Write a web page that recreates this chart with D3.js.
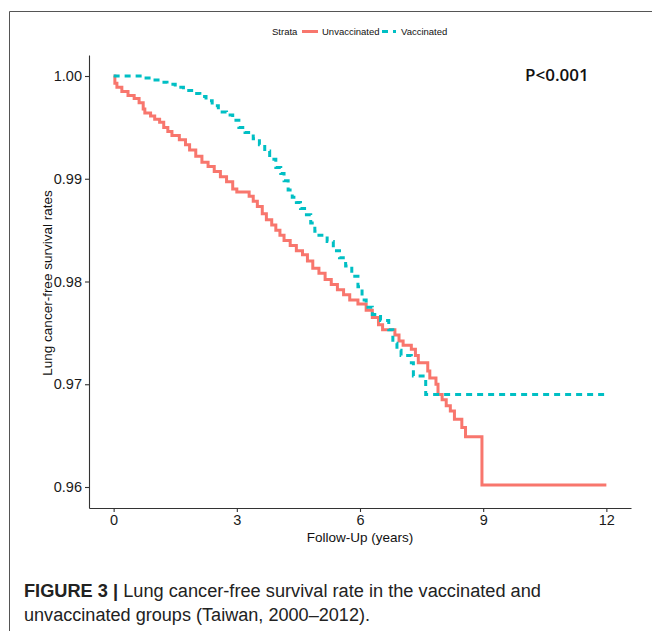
<!DOCTYPE html>
<html>
<head>
<meta charset="utf-8">
<script src="https://cdn.jsdelivr.net/npm/d3@7"></script>
<style>
  body { margin: 0; background: #fff; }
  svg { display: block; }
</style>
</head>
<body>
<div id="chart"></div>
<script>
// Kaplan-Meier style step data
var unvaxTime = [0, 0.03, 0.08, 0.2, 0.35, 0.5, 0.62, 0.72, 0.76, 0.9, 1.0, 1.12, 1.22, 1.32, 1.42, 1.6, 1.75, 1.85, 2.0, 2.15, 2.3, 2.45, 2.6, 2.75, 2.9, 3.0, 3.3, 3.4, 3.5, 3.62, 3.72, 3.85, 3.95, 4.05, 4.15, 4.3, 4.45, 4.6, 4.72, 4.85, 5.0, 5.15, 5.3, 5.45, 5.6, 5.75, 5.95, 6.15, 6.3, 6.45, 6.55, 6.85, 6.95, 7.05, 7.25, 7.35, 7.42, 7.65, 7.7, 7.85, 7.9, 8.0, 8.1, 8.2, 8.3, 8.48, 8.57, 8.97, 12.0];
var unvaxSurv = [1.0, 0.9993, 0.9989, 0.9985, 0.9981, 0.9978, 0.9974, 0.9968, 0.9964, 0.9961, 0.9958, 0.9955, 0.9950, 0.9946, 0.9942, 0.9938, 0.9933, 0.9928, 0.9922, 0.9916, 0.9912, 0.9907, 0.9902, 0.9897, 0.9890, 0.9887, 0.9883, 0.9878, 0.9873, 0.9866, 0.9860, 0.9855, 0.9850, 0.9845, 0.9840, 0.9835, 0.9830, 0.9826, 0.9820, 0.9813, 0.9808, 0.9802, 0.9797, 0.9792, 0.9787, 0.9782, 0.9778, 0.9772, 0.9765, 0.9758, 0.9753, 0.9748, 0.9742, 0.9738, 0.9734, 0.9728, 0.9721, 0.9713, 0.9706, 0.9700, 0.9690, 0.9685, 0.9679, 0.9674, 0.9666, 0.9658, 0.9649, 0.9602, 0.9602];

var vaxTime = [0, 0.7, 0.95, 1.15, 1.3, 1.5, 1.7, 1.9, 2.1, 2.25, 2.4, 2.55, 2.75, 2.9, 3.05, 3.2, 3.4, 3.55, 3.68, 3.8, 3.95, 4.07, 4.15, 4.25, 4.35, 4.45, 4.55, 4.65, 4.8, 4.9, 5.0, 5.2, 5.35, 5.5, 5.65, 5.8, 5.95, 6.05, 6.15, 6.3, 6.5, 6.7, 6.8, 6.9, 7.0, 7.25, 7.3, 7.6, 12.0];
var vaxSurv = [1.0, 0.9998, 0.9996, 0.9994, 0.9992, 0.9989, 0.9986, 0.9983, 0.9980, 0.9976, 0.9971, 0.9965, 0.9962, 0.9957, 0.9950, 0.9945, 0.9939, 0.9933, 0.9927, 0.9919, 0.9911, 0.9905, 0.9898, 0.9889, 0.9882, 0.9877, 0.9871, 0.9865, 0.9857, 0.9849, 0.9845, 0.9839, 0.9830, 0.9823, 0.9815, 0.9805, 0.9795, 0.9782, 0.9775, 0.9768, 0.9762, 0.9753, 0.9740, 0.9733, 0.9728, 0.9721, 0.9708, 0.9690, 0.9690];

var xTicks = [0, 3, 6, 9, 12];
var yTicks = [0.96, 0.97, 0.98, 0.99, 1.00];

var strata = ["Unvaccinated", "Vaccinated"];
var colors = ["#F8766D", "#00BFC4"];

var svgWidth = 652;
var svgHeight = 631;

var svg = d3.select("#chart")
  .append("svg")
  .attr("width", svgWidth)
  .attr("height", svgHeight)
  .style("font-family", "'Liberation Sans', Arial, sans-serif");

// figure frame (top and left edges only visible)
svg.append("path")
  .attr("d", "M9.5,631 L9.5,11.5 L652,11.5")
  .attr("fill", "none")
  .attr("stroke", "#555")
  .attr("stroke-width", 1);

// scales, ggplot style 5% expansion
var x = d3.scaleLinear().domain([-0.6, 12.6]).range([89, 631]);
var y = d3.scaleLinear().domain([0.957956, 1.002044]).range([508, 55]);

// axes
var bottomAxis = d3.axisBottom(x).tickValues(xTicks).tickSize(4).tickSizeOuter(0).tickPadding(3);
var leftAxis = d3.axisLeft(y).tickValues(yTicks).tickSize(4).tickSizeOuter(0).tickPadding(3).tickFormat(d3.format(".2f"));

var gx = svg.append("g")
  .attr("transform", "translate(0,508)")
  .call(bottomAxis);
var gy = svg.append("g")
  .attr("transform", "translate(89,0)")
  .call(leftAxis);

[gx, gy].forEach(function(g) {
  g.select(".domain").attr("stroke", "#333").attr("stroke-width", 1.1);
  g.selectAll(".tick line").attr("stroke", "#333").attr("stroke-width", 1.1);
  g.selectAll(".tick text")
    .attr("fill", "#1a1a1a")
    .style("font-size", "14.5px")
    .style("font-family", "'Liberation Sans', Arial, sans-serif");
});

// survival curves
var line = d3.line()
  .x(function(d) { return x(d[0]); })
  .y(function(d) { return y(d[1]); })
  .curve(d3.curveStepAfter);

var unvax = d3.zip(unvaxTime, unvaxSurv);
var vax = d3.zip(vaxTime, vaxSurv);

svg.append("path")
  .datum(unvax)
  .attr("d", line)
  .attr("fill", "none")
  .attr("stroke", colors[0])
  .attr("stroke-width", 3);

svg.append("path")
  .datum(vax)
  .attr("d", line)
  .attr("fill", "none")
  .attr("stroke", colors[1])
  .attr("stroke-width", 3)
  .attr("stroke-dasharray", "6,5");

// axis titles
svg.append("text")
  .attr("x", 360)
  .attr("y", 542)
  .attr("text-anchor", "middle")
  .style("font-size", "13.5px")
  .attr("fill", "#111")
  .text("Follow-Up (years)");

svg.append("text")
  .attr("transform", "translate(52,283) rotate(-90)")
  .attr("text-anchor", "middle")
  .style("font-size", "13.5px")
  .attr("fill", "#111")
  .text("Lung cancer-free survival rates");

// p-value
svg.append("text")
  .attr("x", 525)
  .attr("y", 81)
  .style("font-family", "'Open Sans', sans-serif")
  .style("font-size", "17px")
  .style("font-weight", 600)
  .attr("fill", "#111")
  .text("P<0.001");

// legend
var legend = svg.append("g").style("font-size", "9.5px");
legend.append("text").attr("x", 272).attr("y", 35).attr("fill", "#111").text("Strata");
legend.append("line")
  .attr("x1", 302).attr("x2", 318).attr("y1", 31.5).attr("y2", 31.5)
  .attr("stroke", colors[0]).attr("stroke-width", 3);
legend.append("text").attr("x", 322).attr("y", 35).attr("fill", "#111").text(strata[0]);
legend.append("line")
  .attr("x1", 382).attr("x2", 396).attr("y1", 31.5).attr("y2", 31.5)
  .attr("stroke", colors[1]).attr("stroke-width", 3)
  .attr("stroke-dasharray", "6,5");
legend.append("text").attr("x", 401).attr("y", 35).attr("fill", "#111").text(strata[1]);

// caption
var cap = svg.append("text")
  .attr("x", 24)
  .attr("y", 597)
  .attr("textLength", 517)
  .attr("lengthAdjust", "spacingAndGlyphs")
  .style("font-size", "18px")
  .attr("fill", "#222");
cap.append("tspan").style("font-weight", "bold").text("FIGURE 3 | ");
cap.append("tspan").text("Lung cancer-free survival rate in the vaccinated and");
svg.append("text")
  .attr("x", 24)
  .attr("y", 621)
  .attr("textLength", 346)
  .attr("lengthAdjust", "spacingAndGlyphs")
  .style("font-size", "18px")
  .attr("fill", "#222")
  .text("unvaccinated groups (Taiwan, 2000\u20132012).");
</script>
</body>
</html>
